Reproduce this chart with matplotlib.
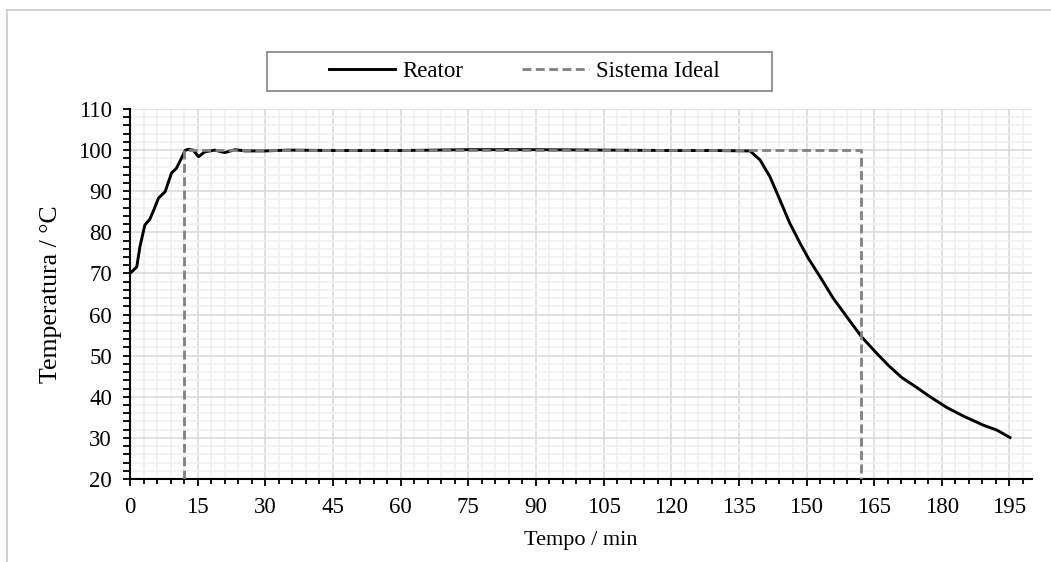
import matplotlib
matplotlib.use("Agg")
import matplotlib.pyplot as plt
from matplotlib.patches import Rectangle
from matplotlib.lines import Line2D
import numpy as np

plt.rcParams['font.family'] = ['Liberation Serif', 'DejaVu Serif']

# Reactor temperature
reator_t = [0, 1.5, 2.2, 3.3, 4.4, 5.3, 6.3, 7.8, 9.2, 10.3, 11.3, 12.2, 12.9, 14.0,
            15.2, 16.6, 18.8, 21.0, 23.3, 25.5, 30, 35, 45, 60, 75, 90, 105, 120,
            130, 137.5, 139.7, 141.9, 144.1, 146.3, 148.6, 150.4, 153.0, 155.9,
            158.9, 162.2, 165.2, 168.1, 171.1, 174.4, 177.4, 181.1, 184.8, 189.2,
            192.2, 195.1]
reator_T = [70, 71.6, 76.5, 81.8, 83.2, 85.5, 88.3, 89.9, 94.4, 95.6, 97.8, 99.9, 100.2, 100.0,
            98.4, 99.6, 100.0, 99.4, 100.1, 99.8, 99.8, 100.0, 99.9, 99.9, 100.1, 100.1, 100.0, 99.9,
            99.9, 99.8, 97.6, 93.5, 87.9, 82.2, 77.3, 73.7, 69.2, 64.0,
            59.5, 54.6, 51.0, 47.7, 44.7, 42.3, 40.0, 37.4, 35.3, 33.1,
            31.9, 30.1]

# Ideal system
ideal_t = [12, 12, 162, 162]
ideal_T = [20, 100, 100, 20]

x_ticks = list(range(0, 196, 15))
y_ticks = list(range(20, 111, 10))

W, H = 1051, 562
fig = plt.figure(figsize=(W / 100, H / 100), dpi=100)
ax = fig.add_axes([130 / W, 1 - 479 / H, (1032 - 130) / W, (479 - 109) / H])

ax.plot(reator_t, reator_T, color='black', lw=2.1, label='Reator', zorder=3)
ax.plot(ideal_t, ideal_T, color='#808080', lw=2.0, ls=(0, (3.2, 1.6)), label='Sistema Ideal', zorder=4)

ax.set_xlim(0, 200)
ax.set_ylim(20, 110)
ax.set_xticks(x_ticks)
ax.set_yticks(y_ticks)
ax.set_xticks(np.arange(0, 201, 3), minor=True)
ax.set_yticks(np.arange(20, 111, 2), minor=True)

ax.grid(which='major', color='#d9d9d9', lw=1.1, zorder=1)
ax.grid(which='minor', color='#f0f0f0', lw=1.1, zorder=0)
ax.set_axisbelow(True)

for s in ['top', 'right']:
    ax.spines[s].set_visible(False)
for s in ['left', 'bottom']:
    ax.spines[s].set_linewidth(1.5)
    ax.spines[s].set_color('black')

ax.tick_params(which='both', direction='out', width=1.3, labelsize=16.5)
ax.tick_params(axis='x', which='major', length=5, pad=8)
ax.tick_params(axis='x', which='minor', length=3.5)
ax.tick_params(axis='y', which='major', length=5, pad=8)
ax.tick_params(axis='y', which='minor', length=5)

ax.set_xlabel('Tempo / min', fontsize=16)
ax.set_ylabel('Temperatura / °C', fontsize=18.5)
ax.xaxis.set_label_coords(0.5, -(531 - 479) / 370)
ax.yaxis.set_label_coords((62 - 130) / 902, 0.5)

leg = fig.legend(loc='center', bbox_to_anchor=(524 / W, 1 - 71.5 / H), ncol=2,
                 frameon=False, fontsize=16.5, handlelength=2.9, handletextpad=0.3,
                 columnspacing=2.6)

# legend box
fig.add_artist(Rectangle((267 / W, 1 - 91 / H), (772 - 267) / W, (91 - 52) / H,
                         transform=fig.transFigure, fill=False, edgecolor='#8c8c8c', lw=1.3))

# outer chart frame
fig.add_artist(Line2D([7 / W, 7 / W], [0, 1 - 10 / H], transform=fig.transFigure,
                      color='#c8c8c8', lw=1.2))
fig.add_artist(Line2D([7 / W, 1], [1 - 10 / H, 1 - 10 / H], transform=fig.transFigure,
                      color='#c8c8c8', lw=1.2))

fig.savefig('out.png', dpi=100)
